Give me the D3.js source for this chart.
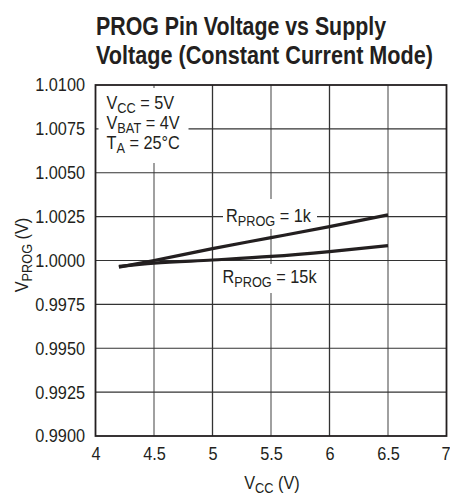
<!DOCTYPE html>
<html><head><meta charset="utf-8">
<script src="https://cdn.jsdelivr.net/npm/d3@7"></script>
<style>
body{margin:0;background:#fff;}
text{font-family:"Liberation Sans",Arial,Helvetica,sans-serif;fill:#231f20;}
</style></head><body>
<svg id="c" width="450" height="498"></svg>
<script>
const titleLines = ["PROG Pin Voltage vs Supply", "Voltage (Constant Current Mode)"];
const vcc = [4.2, 4.5, 5, 5.5, 6, 6.5];
const rprog1k = [0.99962, 1.0000, 1.00068, 1.0013, 1.00193, 1.0026];
const rprog15k = [0.99966, 0.99985, 1.00003, 1.00023, 1.00051, 1.00085];
const xTicks = [4, 4.5, 5, 5.5, 6, 6.5, 7];
const xTickLabels = ["4", "4.5", "5", "5.5", "6", "6.5", "7"];
const yTicks = [0.99, 0.9925, 0.995, 0.9975, 1.0, 1.0025, 1.005, 1.0075, 1.01];
const yTickLabels = ["0.9900","0.9925","0.9950","0.9975","1.0000","1.0025","1.0050","1.0075","1.0100"];

const ink = "#231f20";
const SX = 0.88, FS = 18.5, SUB = 14.5;
const svg = d3.select("#c");
const L = 95.5, R = 446.5, T = 85, B = 436;
const x = d3.scaleLinear().domain([4, 7]).range([L, R]);
const y = d3.scaleLinear().domain([0.99, 1.01]).range([B, T]);

// title
svg.append("g").selectAll("text").data(titleLines).join("text")
  .attr("x", 96).attr("y", (d, i) => 35 + i * 29)
  .attr("font-size", 25).attr("font-weight", "bold")
  .attr("textLength", (d, i) => i === 0 ? 290 : 337)
  .attr("lengthAdjust", "spacingAndGlyphs")
  .text(d => d);

// grid
const g = svg.append("g");
g.selectAll("line.v").data(xTicks.slice(1, -1)).join("line")
  .attr("x1", d => x(d)).attr("x2", d => x(d)).attr("y1", T).attr("y2", B)
  .attr("stroke", (d, i) => i % 2 === 0 ? "#6d6d6d" : "#333").attr("stroke-width", 1.3);
g.selectAll("line.h").data(yTicks.slice(1, -1)).join("line")
  .attr("x1", L).attr("x2", R).attr("y1", d => y(d)).attr("y2", d => y(d))
  .attr("stroke", "#333").attr("stroke-width", 1.2);

// white boxes behind annotations
const boxes = [
  {x: 98.5, y: 88, w: 90, h: 75},
  {x: 223, y: 199, w: 94, h: 30},
  {x: 221, y: 264, w: 97, h: 29}
];
svg.append("g").selectAll("rect").data(boxes).join("rect")
  .attr("x", d => d.x).attr("y", d => d.y).attr("width", d => d.w).attr("height", d => d.h)
  .attr("fill", "#fff");

// frame
svg.append("rect").attr("x", L).attr("y", T).attr("width", R - L).attr("height", B - T)
  .attr("fill", "none").attr("stroke", ink).attr("stroke-width", 1.8);

// axes
const xAxis = svg.append("g").attr("transform", `translate(0,${B})`)
  .call(d3.axisBottom(x).tickValues(xTicks).tickSize(0).tickPadding(11)
    .tickFormat((d, i) => xTickLabels[i]));
const yAxis = svg.append("g").attr("transform", `translate(${L},0)`)
  .call(d3.axisLeft(y).tickValues(yTicks).tickSize(0).tickPadding(10.5)
    .tickFormat((d, i) => yTickLabels[i]));
[xAxis, yAxis].forEach(a => {
  a.select(".domain").remove();
  a.selectAll("text").attr("font-size", FS).attr("font-family", null).style("fill", ink)
    .attr("transform", `scale(${SX},1)`);
});
xAxis.selectAll("text").attr("x", d => d === 7 ? -1 / SX : 0);
yAxis.selectAll("text").attr("x", -10.5 / SX);

// condensed multi-part text helper
function rich(px, py, parts, anchor, rotate) {
  const gg = svg.append("g")
    .attr("transform", `translate(${px},${py})${rotate ? " rotate(-90)" : ""} scale(${SX},1)`);
  const t = gg.append("text").attr("font-size", FS).attr("text-anchor", anchor || "start");
  parts.forEach(p => {
    t.append("tspan").attr("dy", p[1]).attr("font-size", p[2] || FS).text(p[0]);
  });
  return t;
}
function subText(main, sub, rest) {
  return [[main, 0], [sub, 4, SUB], [rest, -4]];
}

// legend
const legend = [
  ["V", "CC", " = 5V"],
  ["V", "BAT", " = 4V"],
  ["T", "A", " = 25°C"]
];
legend.forEach((p, i) => rich(106.5, 109 + i * 20, subText(p[0], p[1], p[2])));

// curves
const line = d3.line().x(d => x(d[0])).y(d => y(d[1])).curve(d3.curveMonotoneX);
[rprog1k, rprog15k].forEach(s => {
  svg.append("path").datum(vcc.map((v, i) => [v, s[i]]))
    .attr("d", line).attr("fill", "none").attr("stroke", ink)
    .attr("stroke-width", 3.2).attr("stroke-linecap", "butt");
});

// curve labels
rich(268.5, 222, subText("R", "PROG", " = 1k"), "middle");
rich(269.5, 283, subText("R", "PROG", " = 15k"), "middle");

// axis titles
rich(272, 489, subText("V", "CC", " (V)"), "middle");
rich(27.5, 255, subText("V", "PROG", " (V)"), "middle", true);
</script>
</body></html>
